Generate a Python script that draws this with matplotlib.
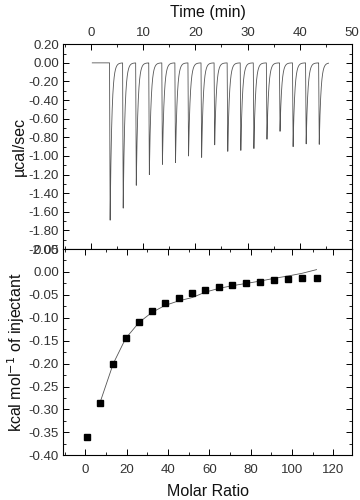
import numpy as np
import matplotlib
matplotlib.use("Agg")
import matplotlib.pyplot as plt
from matplotlib.ticker import MultipleLocator, FormatStrFormatter

plt.rcParams['font.family'] = ['Liberation Sans', 'DejaVu Sans']

# ---- Data ----
# Raw thermogram: injection times (min) and peak depths (µcal/sec)
inj_times = [3.6, 6.1, 8.6, 11.1, 13.6, 16.1, 18.6, 21.1, 23.6, 26.1,
             28.6, 31.1, 33.6, 36.1, 38.6, 41.1, 43.6]
peak_depths = [-1.69, -1.56, -1.315, -1.20, -1.09, -1.07, -1.00, -1.015, -0.88,
               -0.95, -0.94, -0.92, -0.82, -0.735, -0.90, -0.87, -0.875]
baseline_start = 0.3
baseline_end = 45.5

# Integrated heats
molar_ratio = [0.8, 7.1, 13.5, 19.5, 26.0, 32.3, 38.6, 45.2, 51.6, 58.1,
               64.5, 71.1, 77.9, 84.5, 91.3, 97.9, 104.8, 111.8]
heat = [-0.360, -0.285, -0.200, -0.145, -0.110, -0.085, -0.068, -0.056, -0.047,
        -0.040, -0.033, -0.028, -0.025, -0.021, -0.018, -0.016, -0.014, -0.013]
fit_x = molar_ratio[1:]
fit_y = [-0.285, -0.200, -0.145, -0.110, -0.088, -0.073, -0.063, -0.056, -0.044,
         -0.036, -0.030, -0.025, -0.020, -0.014, -0.009, -0.003, 0.005]

# ---- Build thermogram trace from injections ----
t = np.arange(baseline_start, baseline_end, 0.005)
signal = np.zeros_like(t)
rise = 0.12
tau = 0.32
for ti, d in zip(inj_times, peak_depths):
    m1 = (t >= ti) & (t < ti + rise)
    signal[m1] += d * (t[m1] - ti) / rise
    m2 = t >= ti + rise
    signal[m2] += d * np.exp(-(t[m2] - ti - rise) / tau)

fig = plt.figure(figsize=(3.6, 5.0), dpi=100)
ax1 = fig.add_axes([0.175, 0.502, 0.803, 0.4095])
ax2 = fig.add_axes([0.175, 0.0893, 0.803, 0.4127])

lab_fs = 9.5
tick_col = '#333333'
ax1.plot(t, signal, color='#555555', lw=0.6)
ax1.set_xlim(-5.3, 50)
ax1.set_ylim(-2.0, 0.2)
ax1.xaxis.set_major_locator(MultipleLocator(10))
ax1.xaxis.set_minor_locator(MultipleLocator(5))
ax1.yaxis.set_major_locator(MultipleLocator(0.2))
ax1.yaxis.set_minor_locator(MultipleLocator(0.1))
ax1.yaxis.set_major_formatter(FormatStrFormatter('%.2f'))
ax1.xaxis.tick_top()
ax1.xaxis.set_label_position('top')
ax1.tick_params(axis='both', which='both', direction='in', top=True, bottom=True,
                left=True, right=True, labelsize=lab_fs, labelcolor=tick_col)
ax1.tick_params(which='major', length=4, width=0.7)
ax1.tick_params(which='minor', length=2, width=0.6)
ax1.tick_params(axis='x', labelbottom=False, labeltop=True, pad=4)
ax1.tick_params(axis='y', pad=3)
ax1.set_xlabel('Time (min)', fontsize=11.5, labelpad=7, color='#111111')
ax1.set_ylabel('µcal/sec', fontsize=11.5, labelpad=1, color='#111111')

ax2.plot(fit_x, fit_y, color='#555555', lw=0.6)
ax2.plot(molar_ratio, heat, linestyle='none', marker='s', markersize=5,
         color='black')
ax2.set_xlim(-10.8, 129)
ax2.set_ylim(-0.40, 0.05)
ax2.xaxis.set_major_locator(MultipleLocator(20))
ax2.xaxis.set_minor_locator(MultipleLocator(10))
ax2.yaxis.set_major_locator(MultipleLocator(0.05))
ax2.yaxis.set_minor_locator(MultipleLocator(0.025))
ax2.yaxis.set_major_formatter(FormatStrFormatter('%.2f'))
ax2.tick_params(axis='both', which='both', direction='in', top=True, bottom=True,
                left=True, right=True, labelsize=lab_fs, labelcolor=tick_col)
ax2.tick_params(which='major', length=4, width=0.7)
ax2.tick_params(which='minor', length=2, width=0.6)
ax2.tick_params(axis='x', pad=6)
ax2.tick_params(axis='y', pad=3)
ax2.set_xlabel('Molar Ratio', fontsize=11.5, labelpad=6, color='#111111')
ax2.set_ylabel('kcal mol$^{-1}$ of injectant', fontsize=11.5, labelpad=1,
               color='#111111')

for ax in (ax1, ax2):
    for s in ax.spines.values():
        s.set_linewidth(0.8)

fig.savefig('out.png', dpi=100)
